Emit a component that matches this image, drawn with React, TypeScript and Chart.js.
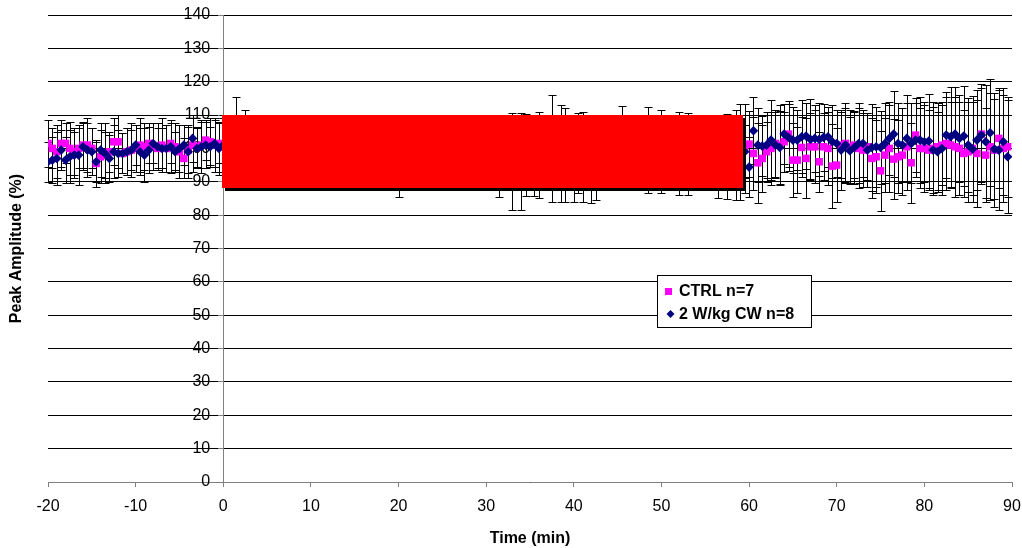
import { useEffect, useRef } from "react";
import { Chart, registerables } from "chart.js";

Chart.register(...registerables);

// Time points (min)
const TIME_MIN = [
  -20, -19.5, -19, -18.5, -18, -17.5, -17, -16.5, -16, -15.5,
  -15, -14.5, -14, -13.5, -13, -12.5, -12, -11.5, -11, -10.5,
  -10, -9.5, -9, -8.5, -8, -7.5, -7, -6.5, -6, -5.5,
  -5, -4.5, -4, -3.5, -3, -2.5, -2, -1.5, -1, -0.5,
  0, 0.5, 1, 1.5, 2, 2.5, 3, 3.5, 4, 4.5,
  5, 5.5, 6, 6.5, 7, 7.5, 8, 8.5, 9, 9.5,
  10, 10.5, 11, 11.5, 12, 12.5, 13, 13.5, 14, 14.5,
  15, 15.5, 16, 16.5, 17, 17.5, 18, 18.5, 19, 19.5,
  20, 20.5, 21, 21.5, 22, 22.5, 23, 23.5, 24, 24.5,
  25, 25.5, 26, 26.5, 27, 27.5, 28, 28.5, 29, 29.5,
  30, 30.5, 31, 31.5, 32, 32.5, 33, 33.5, 34, 34.5,
  35, 35.5, 36, 36.5, 37, 37.5, 38, 38.5, 39, 39.5,
  40, 40.5, 41, 41.5, 42, 42.5, 43, 43.5, 44, 44.5,
  45, 45.5, 46, 46.5, 47, 47.5, 48, 48.5, 49, 49.5,
  50, 50.5, 51, 51.5, 52, 52.5, 53, 53.5, 54, 54.5,
  55, 55.5, 56, 56.5, 57, 57.5, 58, 58.5, 59, 59.5,
  60, 60.5, 61, 61.5, 62, 62.5, 63, 63.5, 64, 64.5,
  65, 65.5, 66, 66.5, 67, 67.5, 68, 68.5, 69, 69.5,
  70, 70.5, 71, 71.5, 72, 72.5, 73, 73.5, 74, 74.5,
  75, 75.5, 76, 76.5, 77, 77.5, 78, 78.5, 79, 79.5,
  80, 80.5, 81, 81.5, 82, 82.5, 83, 83.5, 84, 84.5,
  85, 85.5, 86, 86.5, 87, 87.5, 88, 88.5, 89, 89.5,
];

// CTRL n=7 : baseline (-20..0), exposure (0.5..59.5), post (60..89.5)
const CTRL_PRE = [
  101.5, 100, 99, 101.5, 101.5, 100, 99, 100, 101, 101,
  100, 95.5, 97.5, 98, 99, 102, 102, 98.5, 99, 99.5,
  100, 101, 100.5, 101.5, 100.5, 100, 101, 100, 101.5, 100.5,
  99, 97, 99.5, 101, 100.5, 101, 102.5, 102, 101, 101.5,
  101,
];
const CTRL_MID = [
  100, 101, 100, 99.5, 101, 101, 100, 99, 100, 100.5,
  101, 100, 99.5, 100, 100.5, 99, 100, 101, 100.5, 100,
  99.5, 100, 100.5, 101, 100, 99, 99.5, 100, 100.5, 101,
  100, 99.5, 99, 100, 100.5, 100, 99.5, 100, 101, 97.5,
  99.5, 100, 100.5, 99, 98.5, 99, 100, 100.5, 99.5, 99,
  98.5, 99, 99.5, 100, 99, 98.5, 98, 99, 99.5, 99,
  98.5, 98, 97.5, 98, 97, 96, 97, 97.5, 98, 98.5,
  97, 97.5, 97, 98, 100, 98, 97.5, 98, 97.5, 98,
  98.5, 98, 97.5, 98, 97, 99, 98.5, 98, 99, 98.5,
  100, 98.5, 99, 99.5, 99, 98.5, 98, 98.5, 99, 99,
  98, 98.5, 99, 98.5, 98, 98.5, 99, 99.5, 99, 98.5,
  98, 97.5, 97, 97.5, 97.5, 98.5, 99, 99.5, 100,
];
const CTRL_POST = [
  101.3, 98.5, 95.7, 97, 99, 100, 101.5, 101, 102, 104.3,
  96.5, 96.5, 100.3, 97, 100.5, 100.5, 96, 100.5, 100, 94.7,
  95, 101, 101.5, 100.5, 101, 100, 99.5, 100.5, 97, 97.5,
  93.3, 98, 100, 96.8, 97.5, 98, 100.5, 95.7, 104, 100,
  100, 99.5, 100, 100.5, 101, 101.5, 101, 100.5, 100, 98.5,
  99, 100, 98.5, 104.3, 98, 100.5, 99.5, 103, 100, 100.5,
];
const CTRL_ERR_PRE = [
  7, 6, 8, 7, 6, 8, 7, 6, 7, 8,
  6, 7, 8, 7, 6, 7, 8, 6, 7, 6,
  7, 8, 7, 6, 7, 6, 8, 7, 6, 7,
  8, 6, 7, 8, 6, 7, 6, 7, 8, 6,
  8,
];
const CTRL_ERR_MID = [
  7, 8, 7, 8, 10.5, 7, 8, 7, 8, 7,
  8, 7, 8, 7, 8, 7, 8, 7, 8, 7,
  8, 7, 8, 7, 8, 7, 8, 7, 8, 7,
  8, 7, 8, 7, 8, 7, 8, 7, 8, 12,
  8, 7, 8, 7, 8, 7, 8, 7, 8, 7,
  8, 7, 8, 7, 8, 7, 8, 7, 8, 7,
  8, 7, 12, 8, 7, 14.5, 7, 8, 12.3, 8,
  11.3, 8, 7, 8, 16, 8, 7, 14, 8, 8,
  12, 8, 7, 8, 12.5, 8, 8, 7, 8, 8,
  12.6, 8, 7, 8, 7, 8, 7, 8, 7, 12.5,
  8, 7, 8, 12.5, 8, 7, 8, 7, 8, 7,
  8, 7, 8, 7, 12.8, 8, 7, 8, 13.4,
];
const CTRL_ERR_POST = [
  10, 11, 12, 10, 9, 11, 10, 12, 9, 10,
  11, 10, 9, 12, 10, 11, 9, 10, 11, 12.7,
  11, 10, 12, 11, 10, 12, 11, 10, 12, 11,
  12, 11, 13, 12, 11, 12, 13, 12, 11, 12,
  13, 12, 14, 13, 12, 14, 13, 15, 14, 13,
  15, 14, 16, 15, 14, 16, 17, 15, 16, 15,
];

// 2 W/kg CW n=8
const CW_PRE = [
  96, 96.5, 97, 99.5, 96.5, 97.5, 98, 98, 100.5, 99.5,
  99, 96, 99.5, 98.5, 97, 99, 98.5, 98.5, 99, 99.5,
  101, 99, 98, 99.5, 101.5, 100.5, 100, 100, 100.5, 99,
  100, 101, 99, 103, 100, 100.5, 101, 100.5, 101.5, 100,
  101,
];
const CW_MID = [
  101, 100.5, 101.5, 100, 100.5, 101, 101.5, 100, 100.5, 101,
  100.5, 101, 100, 100.5, 101, 100.5, 100, 100.5, 101, 100,
  100.5, 100, 101, 100.5, 100, 99.5, 100, 100.5, 100, 100.5,
  100, 99.5, 100, 100.5, 99.5, 100, 99.5, 99, 99.5, 100,
  99.5, 99, 99.5, 100, 99.5, 99, 98.5, 99, 99.5, 99,
  99.5, 99, 98.5, 99, 99.5, 99, 98.5, 98, 98.5, 99,
  98.5, 98, 97.5, 98, 97, 97.5, 98, 96, 97, 97.5,
  97, 98, 98, 98.5, 98, 97.5, 98.5, 97.5, 98, 97,
  98, 97.5, 99, 96.5, 98, 98.5, 99, 99.5, 99, 98.5,
  99, 99.5, 99, 98.5, 99, 99.5, 99.5, 99.5, 99, 99.5,
  99, 98.5, 98, 98.5, 99, 98.3, 98, 97.5, 98, 98.5,
  99, 98.5, 97.5, 97.5, 97, 97.5, 98, 99, 99,
];
const CW_POST = [
  94.4, 105.3, 101, 100.7, 101, 102.5, 101, 100.3, 104.3, 103.3,
  102.5, 102.5, 103.5, 103.7, 102.7, 103, 102.7, 103.3, 103.5, 102,
  101.5, 99.5, 101, 99.3, 100.3, 101.5, 101.5, 99.5, 100.3, 100.5,
  100.3, 101.5, 103, 104.3, 101.5, 101, 103, 101.5, 102.5, 102.5,
  102, 102.2, 99.5, 99, 100, 104, 103.5, 104.3, 103, 103.7,
  101, 99.8, 102.5, 104, 102, 104.7, 99.8, 99.5, 102, 97.5,
];
const CW_ERR_PRE = [
  6, 7, 8, 6, 7, 8, 7, 9, 7, 8,
  7, 6, 8, 9, 7, 8, 7, 6, 7, 8,
  6, 7, 8, 7, 6, 7, 6, 7, 8, 6,
  7, 6, 8, 7, 6, 8, 7, 6, 7, 8,
  9,
];
const CW_ERR_MID = [
  8, 7, 14, 8, 7, 8, 7, 8, 7, 8,
  7, 8, 7, 8, 7, 8, 7, 8, 7, 8,
  7, 8, 7, 8, 7, 8, 7, 8, 7, 8,
  7, 8, 7, 8, 7, 8, 7, 8, 7, 8,
  7, 8, 7, 8, 7, 8, 7, 8, 7, 8,
  7, 8, 7, 8, 7, 8, 7, 8, 7, 8,
  7, 8, 7, 8, 7, 8, 7, 14.5, 7, 8,
  7, 13, 7, 8, 7, 8, 14.5, 8, 7, 13,
  7, 13.5, 7, 13, 7, 8, 7, 8, 7, 8,
  7, 8, 7, 8, 7, 8, 13, 8, 7, 8,
  7, 8, 7, 8, 7, 12.3, 7, 8, 7, 8,
  7, 8, 12.5, 8, 7, 8, 13.5, 14.4, 8,
];
const CW_ERR_POST = [
  9, 10, 11, 9, 10, 12, 10, 11, 9, 10,
  10, 9, 11, 10, 12, 10, 11, 10, 9, 11,
  10, 12, 11, 10, 11, 12, 10, 11, 13, 12,
  11, 12, 11, 13, 12, 11, 13, 12, 11, 13,
  12, 14, 13, 12, 14, 13, 15, 14, 13, 15,
  14, 16, 15, 14, 17, 16, 15, 18, 16, 17,
];

const SERIES_NAMES = ["CTRL n=7", "2 W/kg CW n=8"];
const Y_TICKS = [0, 10, 20, 30, 40, 50, 60, 70, 80, 90, 100, 110, 120, 130, 140];
const X_TICKS = [-20, -10, 0, 10, 20, 30, 40, 50, 60, 70, 80, 90];
const X_TITLE = "Time (min)";
const Y_TITLE = "Peak Amplitude (%)";

// exposure block (min, %)
const EXPOSURE_START = -0.2;
const EXPOSURE_END = 59.3;
const EXPOSURE_LOW = 88;
const EXPOSURE_HIGH = 110;

const CTRL = [...CTRL_PRE, ...CTRL_MID, ...CTRL_POST];
const CTRL_ERR = [...CTRL_ERR_PRE, ...CTRL_ERR_MID, ...CTRL_ERR_POST];
const CW = [...CW_PRE, ...CW_MID, ...CW_POST];
const CW_ERR = [...CW_ERR_PRE, ...CW_ERR_MID, ...CW_ERR_POST];

const FONT = '"Liberation Sans", Arial, Helvetica, sans-serif';
const CTRL_COLOR = "#ff00ff";
const CW_COLOR = "#000080";

// Moves tick labels off the crossing axis (y) and below the tick marks (x)
const labelShiftPlugin = {
  id: "labelShift",
  beforeDraw(chart: any) {
    const ys = chart.scales.y;
    ys.getLabelItems().forEach((it: any) => {
      if (!it._shifted) {
        it.options.translation[0] -= 13;
        it._shifted = true;
      }
    });
    const xs = chart.scales.x;
    xs.getLabelItems().forEach((it: any) => {
      if (!it._shifted) {
        it.options.translation[1] += 10;
        it._shifted = true;
      }
    });
  },
};

const errorBarPlugin = {
  id: "errorBars",
  beforeDatasetsDraw(chart: any) {
    const { ctx, scales } = chart;
    const xs = scales.x;
    const ys = scales.y;
    ctx.save();
    ctx.strokeStyle = "#000";
    ctx.lineWidth = 1;
    ctx.beginPath();
    const sets: [number[], number[]][] = [
      [CTRL, CTRL_ERR],
      [CW, CW_ERR],
    ];
    sets.forEach(([vals, errs]) => {
      vals.forEach((v, i) => {
        const px = Math.round(xs.getPixelForValue(TIME_MIN[i])) + 0.5;
        const yt = Math.round(ys.getPixelForValue(v + errs[i])) + 0.5;
        const yb = Math.round(ys.getPixelForValue(v - errs[i])) + 0.5;
        ctx.moveTo(px, yt);
        ctx.lineTo(px, yb);
        ctx.moveTo(px - 4, yt);
        ctx.lineTo(px + 4, yt);
        ctx.moveTo(px - 4, yb);
        ctx.lineTo(px + 4, yb);
      });
    });
    ctx.stroke();
    ctx.restore();
  },
};

const exposurePlugin = {
  id: "exposureBlock",
  afterDatasetsDraw(chart: any) {
    const { ctx, scales } = chart;
    const x1 = scales.x.getPixelForValue(EXPOSURE_START);
    const x2 = scales.x.getPixelForValue(EXPOSURE_END);
    const y1 = scales.y.getPixelForValue(EXPOSURE_HIGH);
    const y2 = scales.y.getPixelForValue(EXPOSURE_LOW);
    ctx.save();
    ctx.fillStyle = "#000";
    ctx.fillRect(Math.round(x1) + 3, Math.round(y1) + 3, Math.round(x2 - x1), Math.round(y2 - y1));
    ctx.fillStyle = "#ff0000";
    ctx.fillRect(Math.round(x1), Math.round(y1), Math.round(x2 - x1), Math.round(y2 - y1));
    ctx.restore();
  },
};

const legendAndTitlePlugin = {
  id: "legendAndTitle",
  afterDraw(chart: any) {
    const { ctx, chartArea } = chart;
    ctx.save();
    ctx.fillStyle = "#000";
    ctx.font = `bold 16px ${FONT}`;
    ctx.textAlign = "center";
    ctx.textBaseline = "middle";
    ctx.translate(17, (chartArea.top + chartArea.bottom) / 2);
    ctx.rotate(-Math.PI / 2);
    ctx.fillText(Y_TITLE, 0, 0);
    ctx.restore();

    ctx.save();
    const bx = 657.5;
    const by = 275.5;
    const bw = 154;
    const bh = 52;
    ctx.fillStyle = "#fff";
    ctx.fillRect(bx, by, bw, bh);
    ctx.strokeStyle = "#000";
    ctx.lineWidth = 1;
    ctx.strokeRect(bx, by, bw, bh);
    ctx.fillStyle = CTRL_COLOR;
    ctx.fillRect(665, 288, 7, 7);
    ctx.fillStyle = CW_COLOR;
    ctx.beginPath();
    ctx.moveTo(670.5, 310);
    ctx.lineTo(674.5, 314);
    ctx.lineTo(670.5, 318);
    ctx.lineTo(666.5, 314);
    ctx.closePath();
    ctx.fill();
    ctx.fillStyle = "#000";
    ctx.font = `bold 16px ${FONT}`;
    ctx.textAlign = "left";
    ctx.textBaseline = "middle";
    ctx.fillText(SERIES_NAMES[0], 679, 292);
    ctx.fillText(SERIES_NAMES[1], 679, 315);
    ctx.restore();
  },
};

export default function App() {
  const ref = useRef<HTMLCanvasElement | null>(null);

  useEffect(() => {
    const canvas = ref.current;
    if (!canvas) return;
    Chart.defaults.font.family = FONT;
    Chart.defaults.color = "#000";

    const chart = new Chart(canvas, {
      type: "scatter",
      data: {
        datasets: [
          {
            label: SERIES_NAMES[0],
            data: TIME_MIN.map((t, i) => ({ x: t, y: CTRL[i] })),
            pointStyle: "rect",
            pointRadius: 5.3,
            pointBackgroundColor: CTRL_COLOR,
            pointBorderColor: CTRL_COLOR,
            pointBorderWidth: 0,
            showLine: false,
            order: 2,
          },
          {
            label: SERIES_NAMES[1],
            data: TIME_MIN.map((t, i) => ({ x: t, y: CW[i] })),
            pointStyle: "rectRot",
            pointRadius: 4.8,
            pointBackgroundColor: CW_COLOR,
            pointBorderColor: CW_COLOR,
            pointBorderWidth: 0,
            showLine: false,
            order: 1,
          },
        ],
      },
      options: {
        responsive: false,
        animation: false,
        events: [],
        layout: { padding: { left: 48, right: 10, top: 15, bottom: 0 } },
        plugins: {
          legend: { display: false },
          tooltip: { enabled: false },
        },
        scales: {
          x: {
            type: "linear",
            position: "bottom",
            min: -20,
            max: 90,
            afterBuildTicks: (scale: any) => {
              scale.ticks = X_TICKS.map((v) => ({ value: v }));
            },
            afterFit: (scale: any) => {
              scale.height = 66;
            },
            ticks: {
              font: { size: 16 },
              color: "#000",
              padding: 0,
              maxRotation: 0,
              callback: (v: any) => String(v),
            },
            grid: {
              drawOnChartArea: false,
              drawTicks: true,
              tickLength: 5,
              tickColor: "#808080",
            },
            border: { display: true, color: "#808080", width: 1 },
            title: {
              display: true,
              text: X_TITLE,
              font: { size: 16, weight: "bold" },
              color: "#000",
              padding: { top: 0, bottom: 0 },
            },
          },
          y: {
            type: "linear",
            axis: "y",
            position: { x: 0 },
            min: 0,
            max: 140,
            afterBuildTicks: (scale: any) => {
              scale.ticks = Y_TICKS.map((v) => ({ value: v }));
            },
            ticks: {
              font: { size: 16 },
              color: "#000",
              padding: 0,
              callback: (v: any) => String(v),
            },
            grid: {
              color: "#000",
              lineWidth: 1,
              drawTicks: true,
              tickLength: 5,
              tickColor: "#808080",
            },
            border: { display: true, color: "#808080", width: 1 },
          },
        },
      },
      plugins: [labelShiftPlugin, errorBarPlugin, exposurePlugin, legendAndTitlePlugin],
    } as any);

    return () => chart.destroy();
  }, []);

  return (
    <div style={{ position: "fixed", left: 0, top: 0, width: 1022, height: 548, background: "#fff" }}>
      <canvas ref={ref} width={1022} height={548} style={{ display: "block", width: 1022, height: 548 }} />
    </div>
  );
}
